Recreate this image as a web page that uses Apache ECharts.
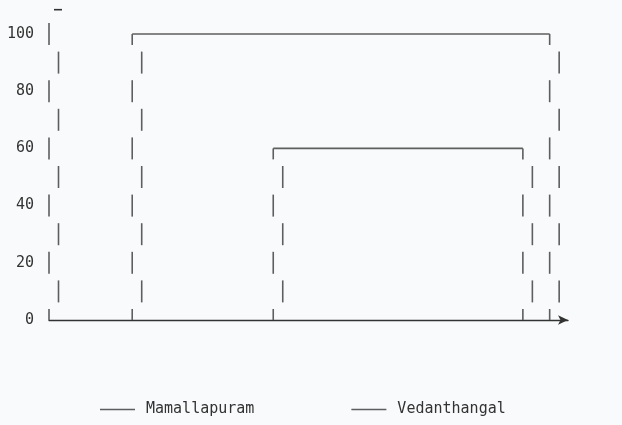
<!DOCTYPE html>
<html>
<head>
<meta charset="utf-8">
<script src="https://cdn.jsdelivr.net/npm/echarts@6/dist/echarts.min.js"></script>
<style>
html,body{margin:0;padding:0;background:#f9fafb;}
#main{width:622px;height:425px;}
</style>
</head>
<body>
<div id="main"></div>
<script>
// categories + values
var categories = ['Jan-Mar', 'Apr-Jun', 'Jul-Sep', 'Oct-Dec'];
var mamX = [1, 1, 2.77, 2.77];
var mamY = [0, 60, 60, 0];
var vedX = [0, 0, 2.96, 2.96];
var vedY = [0, 100, 100, 0];
var yTicks = [0, 20, 40, 60, 80, 100];

var X_MIN = -0.59, X_MAX = 3.09;
var Y_MAX = 110;
var LINE = '#5e5e5e';
var HALF = 11;     // half length of a dash
var OFFSET = 9.5;  // sideways jump of the odd dashes
var FONT = 'DejaVu Sans Mono';

function segs(xs, ys) {
    var out = [];
    for (var i = 0; i < xs.length - 1; i++) {
        out.push([xs[i], ys[i], xs[i + 1], ys[i + 1]]);
    }
    return out;
}

// vertical run drawn as "|" dashes, every other one pushed sideways
function sketchVertical(api, xv, lo, hi) {
    var top = api.coord([xv, hi])[1];
    var bot = api.coord([xv, lo])[1];
    var x0 = api.coord([xv, lo])[0];
    var kids = [];
    for (var m = Math.floor(lo / 10) * 10 - 10; m <= hi + 10; m += 10) {
        var c = api.coord([xv, m])[1];
        var y1 = Math.max(c - HALF, top), y2 = Math.min(c + HALF, bot);
        if (y2 - y1 < 1) continue;
        var x = x0 + (Math.abs(m / 10) % 2 === 0 ? 0 : OFFSET);
        kids.push({type: 'line', shape: {x1: x, y1: y1, x2: x, y2: y2},
            style: {stroke: LINE, lineWidth: 1.6}});
    }
    return kids;
}

function renderSketch(params, api) {
    var a = api.coord([api.value(0), api.value(1)]);
    var b = api.coord([api.value(2), api.value(3)]);
    if (Math.abs(a[0] - b[0]) > 0.5) {
        return {type: 'line', shape: {x1: a[0], y1: a[1], x2: b[0], y2: b[1]},
            style: {stroke: LINE, lineWidth: 1.6}};
    }
    var lo = Math.min(api.value(1), api.value(3)), hi = Math.max(api.value(1), api.value(3));
    return {type: 'group', children: sketchVertical(api, api.value(0), lo, hi)};
}

function renderAxis(params, api) {
    var kids = sketchVertical(api, X_MIN, 0, 104);
    var p = api.coord([X_MIN, 108.5]);
    kids.push({type: 'line', shape: {x1: p[0] + 5, y1: p[1], x2: p[0] + 13, y2: p[1]},
        style: {stroke: '#333', lineWidth: 1.6}});
    return {type: 'group', children: kids};
}

var myChart = echarts.init(document.getElementById('main'));
myChart.setOption({
    backgroundColor: '#f9fafb',
    animation: false,
    textStyle: {fontFamily: FONT},
    grid: {left: 49, right: 54, top: 320 - Y_MAX * 2.86, bottom: 105, containLabel: false},
    legend: {
        data: ['Mamallapuram', 'Vedanthangal'],
        left: 95, top: 397,
        icon: 'rect', itemWidth: 35, itemHeight: 1.3, itemGap: 97,
        textStyle: {fontFamily: FONT, fontSize: 15, color: '#333', padding: [0, 0, 0, 6]}
    },
    xAxis: {
        type: 'value', min: X_MIN, max: X_MAX, interval: 1,
        splitLine: {show: false},
        axisTick: {show: false},
        axisLine: {show: true, symbol: ['none', 'arrow'], symbolSize: [7, 10],
            lineStyle: {color: '#333', width: 1.4}},
        axisLabel: {
            margin: 21, fontSize: 15, color: '#333', fontFamily: FONT,
            formatter: function (v) {
                return (Math.abs(v - Math.round(v)) < 1e-6 && categories[v]) ? categories[v] : '';
            }
        }
    },
    yAxis: {
        type: 'value', min: 0, max: Y_MAX, interval: 20,
        splitLine: {show: false},
        axisTick: {show: false},
        axisLine: {show: false},
        axisLabel: {
            margin: 15, fontSize: 15, color: '#333', fontFamily: FONT,
            formatter: function (v) { return yTicks.indexOf(v) >= 0 ? String(v) : ''; }
        }
    },
    series: [
        {name: 'axis', type: 'custom', renderItem: renderAxis, clip: false, silent: true,
            data: [[X_MIN, 0]]},
        {name: 'Mamallapuram', type: 'custom', renderItem: renderSketch, clip: false,
            itemStyle: {color: LINE}, data: segs(mamX, mamY)},
        {name: 'Vedanthangal', type: 'custom', renderItem: renderSketch, clip: false,
            itemStyle: {color: LINE}, data: segs(vedX, vedY)}
    ]
});
</script>
</body>
</html>
